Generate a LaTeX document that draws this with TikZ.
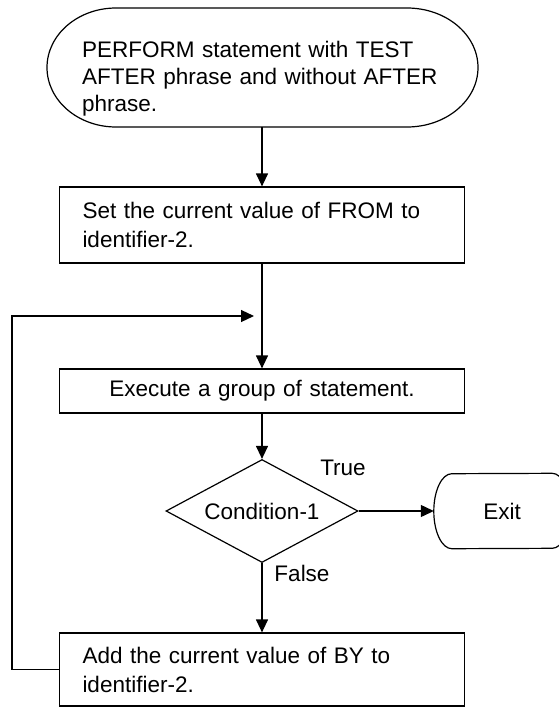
\documentclass[tikz,border=0pt]{standalone}
\usepackage{fontspec}
\setmainfont{Liberation Sans}
\usepackage{tikz}
\usetikzlibrary{shapes.geometric, arrows.meta, calc}

\begin{document}
\begin{tikzpicture}[
    x=1pt, y=1pt,
    line/.style={line width=1.2pt},
    box/.style={rectangle, draw, line width=1.2pt, minimum width=405pt, text width=359pt, inner xsep=23pt, inner ysep=0pt, font=\fontsize{22.5}{29}\selectfont},
    term/.style={rectangle, draw=none, inner sep=0pt, font=\fontsize{22.5}{29}\selectfont},
    decision/.style={diamond, draw, line width=1.2pt, aspect=1.86, minimum width=192pt, minimum height=103pt, inner sep=0pt, font=\fontsize{22.5}{29}\selectfont},
    lbl/.style={font=\fontsize{22.5}{29}\selectfont, inner sep=0pt},
    arrow/.style={-{Triangle[length=13pt, width=12pt]}, line width=1.2pt}
]
    \useasboundingbox (0,0) rectangle (559,-707);

    % Start terminal
    \node[term, text width=390pt, align=left, anchor=west, font=\fontsize{22.5}{27}\selectfont] (start) at (82,-79)
        {PERFORM statement with TEST\\AFTER phrase and without AFTER\\phrase.};
    \draw[line] (116,-127) arc[start angle=270, end angle=90, x radius=69pt, y radius=59.5pt]
        -- (407,-8) arc[start angle=90, end angle=-90, x radius=71pt, y radius=59.5pt] -- cycle;
    \coordinate (startout) at (262,-127);

    % Process boxes
    \node[box, minimum height=76pt, align=left] (setfrom) at (262,-225) {Set the current value of FROM to\\identifier-2.};
    \node[box, minimum height=44pt, align=center] (execute) at (262,-391) {Execute a group of statement.};
    \node[decision] (cond) at (262,-511) {Condition-1};
    \node[box, minimum height=73pt, align=left] (addby) at (262,-669.5) {Add the current value of BY to\\identifier-2.};

    % Exit terminal
    \node[term, minimum width=136pt, minimum height=75pt] (exit) at (502,-511) {Exit};
    \draw[line] ([xshift=18pt]exit.south west) arc[start angle=270, end angle=90, x radius=18pt, y radius=37.5pt]
        -- ([xshift=-18pt]exit.north east) arc[start angle=90, end angle=-90, x radius=18pt, y radius=37.5pt] -- cycle;

    % Branch labels
    \node[lbl] (truelbl) at (343,-468) {True};
    \node[lbl] (falselbl) at (302,-573) {False};

    % Main flow
    \draw[arrow] (startout) -- (setfrom);
    \draw[arrow] (setfrom) -- (execute);
    \draw[arrow] (execute) -- (cond);
    \draw[arrow] (cond) -- (exit);
    \draw[arrow] (cond) -- (addby);

    % Loop back
    \coordinate (loopin) at (254,-316);
    \draw[arrow] (addby.west) -- ++(-47,0) |- (loopin);
\end{tikzpicture}
\end{document}
